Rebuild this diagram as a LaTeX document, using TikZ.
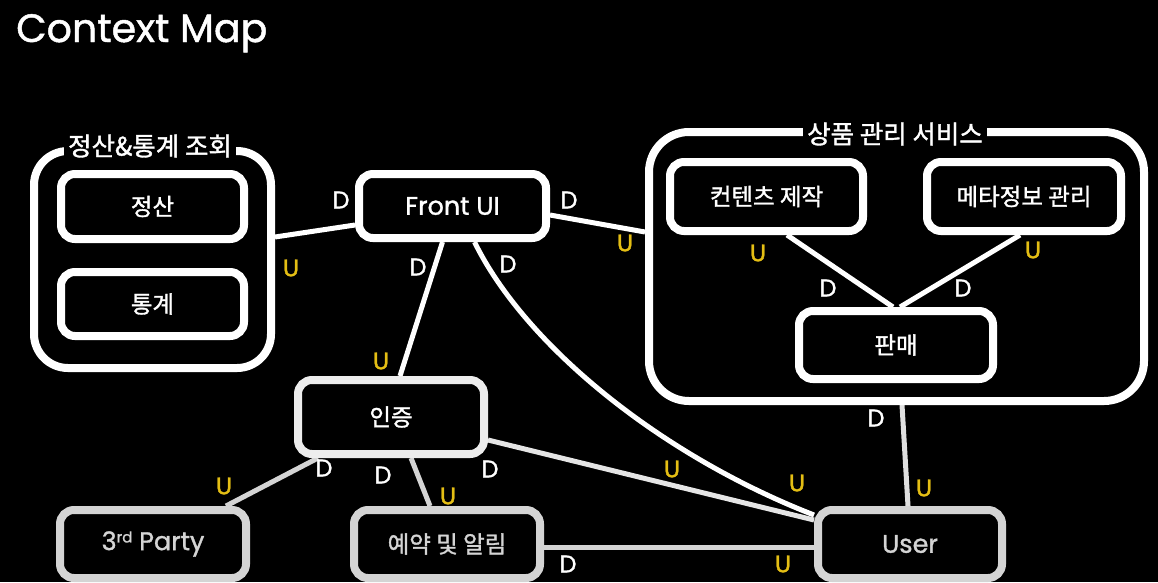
\documentclass[tikz,border=0pt]{standalone}
\usepackage{fontspec}
\setmainfont{Poppins}[FakeBold=1.2]
\newfontfamily\kr{Noto Sans CJK KR}[FakeBold=1.4]
\usetikzlibrary{positioning}

\definecolor{ugold}{RGB}{228,190,20}
\definecolor{boxgrey}{RGB}{212,212,212}

\pgfdeclarelayer{bg}
\pgfdeclarelayer{links}
\pgfsetlayers{bg,links,main}

\begin{document}
\begin{tikzpicture}[x=1pt, y=-1pt]

\tikzstyle{ctx} = [rectangle, rounded corners=14pt, draw=white, line width=8pt, fill=black, text=white, minimum width=186pt, minimum height=68pt, font=\kr\fontsize{23.5}{27}\selectfont]
\tikzstyle{lower} = [draw=boxgrey, text=boxgrey]
\tikzstyle{group} = [rectangle, rounded corners=34pt, draw=white, line width=8pt]
\tikzstyle{grouptitle} = [fill=black, text=white, inner sep=4pt, font=\kr\fontsize{25.5}{28}\selectfont]
\tikzstyle{link} = [draw=white, line width=5pt]
\tikzstyle{dlab} = [text=white, inner sep=0pt, font=\fontsize{24}{24}\selectfont]
\tikzstyle{ulab} = [text=ugold, inner sep=0pt, font=\fontsize{24}{24}\selectfont]

\begin{pgfonlayer}{bg}
\fill[black] (0,0) rectangle (1158,582);
\end{pgfonlayer}
\useasboundingbox (0,0) rectangle (1158,582);

\node (title) [anchor=base west, text=white, inner sep=0pt, font=\fontsize{39.5}{40}\selectfont] at (16,42) {Context Map};

% settlement & statistics
\node (lgroup) [group, minimum width=237pt, minimum height=217pt] at (152.5,259.5) {};
\node (ltitle) [grouptitle] at (150,146) {정산\&통계 조회};
\node (jeongsan) [ctx, minimum width=183pt, minimum height=65pt] at (152.5,206.5) {정산};
\node (tonggye) [ctx, minimum width=183pt, minimum height=64pt, below=25pt of jeongsan] {통계};

\node (front) [ctx, font=\fontsize{25.5}{28}\selectfont, minimum width=187pt, minimum height=64pt] at (452.5,206) {Front UI};

% product management
\node (rgroup) [group, rounded corners=40pt, minimum width=495pt, minimum height=269pt] at (896.5,266.5) {};
\node (rtitle) [grouptitle] at (895,134) {상품 관리 서비스};
\node (content) [ctx, minimum width=193pt, minimum height=69pt] at (766.5,196.5) {컨텐츠 제작};
\node (meta) [ctx, minimum width=194pt, minimum height=69pt, right=56pt of content] {메타정보 관리};
\node (sales) [ctx, minimum width=194pt, minimum height=68pt] at (896,345) {판매};

\node (auth) [ctx, draw=white!93!black, minimum height=74pt] at (391,417) {인증};

\node (third) [ctx, lower, font=\fontsize{25.5}{28}\selectfont] at (153,544) {3\raisebox{0.55ex}{\fontsize{15}{15}\selectfont rd} Party};
\node (notify) [ctx, lower, right=100pt of third] {예약 및 알림};
\node (user) [ctx, lower, font=\fontsize{25.5}{28}\selectfont, minimum width=184pt] at (910,544) {User};

\begin{pgfonlayer}{links}
\draw [link] ([yshift=22.5pt]lgroup.east) -- ([yshift=-19pt]front.west);
\draw [link] ([yshift=-9pt]front.east) -- ([yshift=34.5pt]rgroup.west);
\draw [link] ([xshift=-10pt]front.south) -- ([xshift=9pt]auth.north);
\draw [link] ([xshift=22pt]front.south) .. controls (525,345) and (660,455) .. ([yshift=29pt]user.west);
\draw [link, draw=white!90!black] ([yshift=-23pt]auth.east) -- ([yshift=24pt]user.west);
\draw [link, draw=boxgrey] ([xshift=-73pt]auth.south) -- ([xshift=73pt]third.north);
\draw [link, draw=boxgrey] ([xshift=20pt]auth.south) -- ([xshift=-17pt]notify.north);
\draw [link, draw=boxgrey] ([yshift=-3pt]notify.east) -- ([yshift=-3pt]user.west);
\draw [link, draw=white!88!black] ([xshift=5.5pt]rgroup.south) -- ([xshift=-2pt]user.north);
\draw [link] ([xshift=20.5pt]content.south) -- ([xshift=-3pt]sales.north);
\draw [link] ([xshift=-4pt]meta.south) -- ([xshift=4pt]sales.north);
\end{pgfonlayer}

% D / U labels
\node (d1) [dlab] at (341,200) {D};
\node (u1) [ulab] at (291,268) {U};
\node (d2) [dlab] at (569,200) {D};
\node (u2) [ulab] at (625,243) {U};
\node (d3) [dlab] at (418,267) {D};
\node (u3) [ulab] at (381,361) {U};
\node (d4) [dlab] at (508,264) {D};
\node (u4) [ulab] at (797,483) {U};
\node (d5) [dlab] at (324,468) {D};
\node (u5) [ulab] at (224,486) {U};
\node (d6) [dlab] at (383,475) {D};
\node (u6) [ulab] at (448,496) {U};
\node (d7) [dlab] at (490,469) {D};
\node (u7) [ulab] at (672,469) {U};
\node (d8) [dlab] at (568,564) {D};
\node (u8) [ulab] at (783,564) {U};
\node (d9) [dlab] at (876,418) {D};
\node (u9) [ulab] at (924,488) {U};
\node (u10) [ulab] at (758,253) {U};
\node (d10) [dlab] at (828,288) {D};
\node (u11) [ulab] at (1033,250) {U};
\node (d11) [dlab] at (963,288) {D};

\end{tikzpicture}
\end{document}
